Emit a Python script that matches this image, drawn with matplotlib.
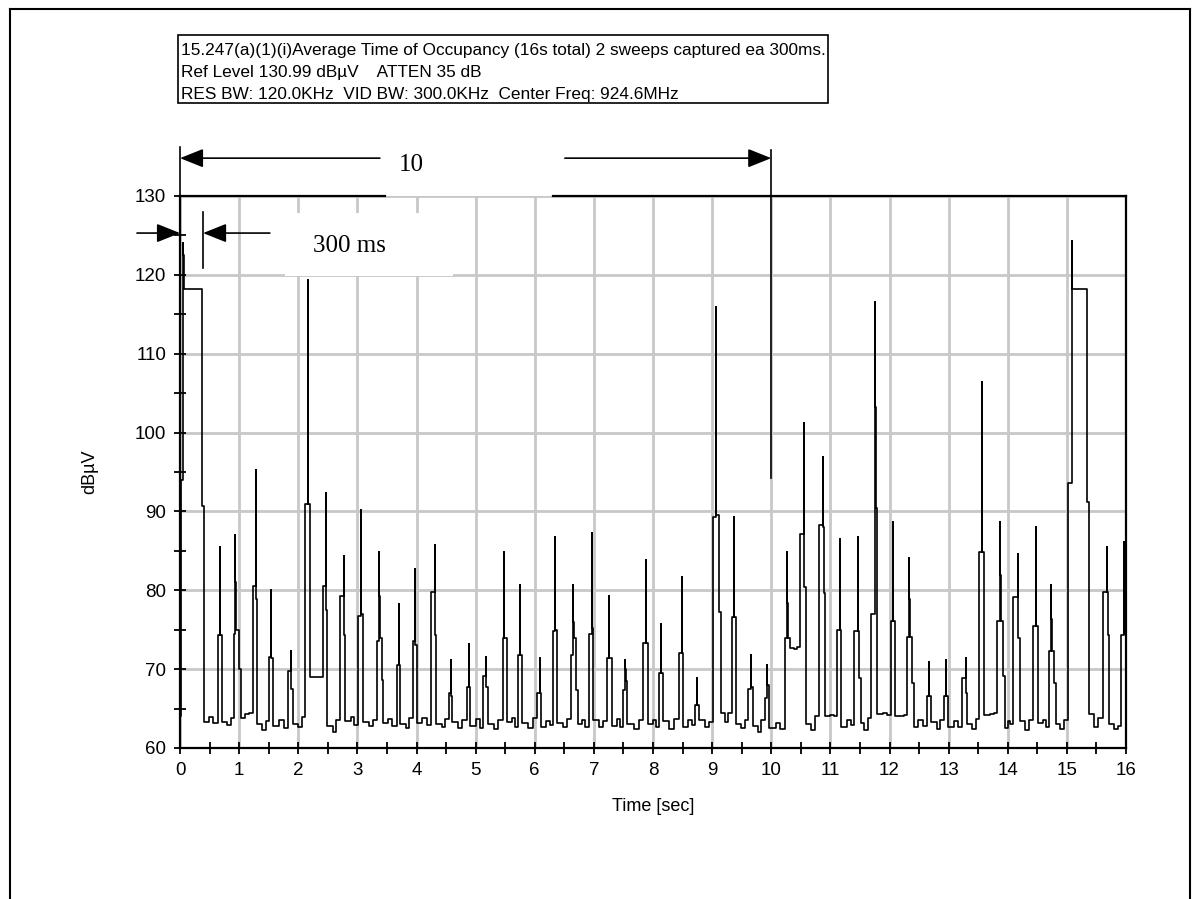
import matplotlib
matplotlib.use("Agg")
import matplotlib.pyplot as plt
import numpy as np
from matplotlib.patches import Rectangle
from matplotlib.lines import Line2D

# header text of the analyser plot
header_lines = [
    "15.247(a)(1)(i)Average Time of Occupancy (16s total) 2 sweeps captured ea 300ms.",
    "Ref Level 130.99 dB\u00b5V    ATTEN 35 dB",
    "RES BW: 120.0KHz  VID BW: 300.0KHz  Center Freq: 924.6MHz",
]

# one entry per burst seen on the trace (time in s, level in dBuV)
rise_t = [0.02, 0.646, 0.910, 1.23, 1.51, 1.826, 2.118, 2.427, 2.708, 3.017,
          3.339, 3.664, 3.944, 4.241, 4.543, 4.846, 5.13, 5.457, 5.709, 6.045,
          6.31, 6.62, 6.92, 7.226, 7.497, 7.836, 8.10, 8.446, 8.712, 9.011,
          9.333, 9.606, 9.887, 10.225, 10.49, 10.806, 11.115, 11.408, 11.69, 12.028,
          12.30, 12.637, 12.916, 13.225, 13.522, 13.826, 14.096, 14.42, 14.70, 15.022,
          15.612, 15.92]
peak_t = [0.056, 0.674, 0.938, 1.28, 1.545, 1.876, 2.157, 2.466, 2.77, 3.062,
          3.367, 3.697, 3.972, 4.308, 4.577, 4.88, 5.18, 5.485, 5.748, 6.084,
          6.35, 6.655, 6.96, 7.26, 7.53, 7.876, 8.136, 8.486, 8.751, 9.062,
          9.367, 9.662, 9.927, 10.27, 10.546, 10.879, 11.155, 11.46, 11.758, 12.062,
          12.338, 12.676, 12.96, 13.292, 13.567, 13.871, 14.169, 14.47, 14.736, 15.079,
          15.68, 15.966]
fall_t = [0.376, 0.713, 0.994, 1.30, 1.573, 1.904, 2.202, 2.494, 2.79, 3.10,
          3.41, 3.725, 4.0, 4.336, 4.6, 4.913, 5.204, 5.53, 5.776, 6.112,
          6.38, 6.70, 6.99, 7.30, 7.565, 7.91, 8.164, 8.514, 8.785, 9.119,
          9.407, 9.69, 9.97, 10.31, 10.58, 10.907, 11.183, 11.49, 11.786, 12.10,
          12.377, 12.71, 12.983, 13.309, 13.596, 13.916, 14.208, 14.51, 14.79, 15.348,
          15.708, 16.0]
rise_db = [94, 74.3, 74.5, 80.5, 71.6, 69.8, 90.9, 80.5, 79.3, 76.8,
           73.6, 70.5, 73.6, 79.8, 67, 67.7, 69.1, 73.9, 71.8, 67,
           74.8, 71.8, 74.5, 71.4, 67.4, 73.3, 69.5, 72, 65.5, 89.3,
           76.6, 67.5, 66.4, 73.9, 87.2, 88.3, 75, 74.8, 77, 76.1,
           74.1, 66.6, 66.6, 68.9, 84.8, 76.1, 79.1, 75.5, 72.3, 93.6,
           79.8, 74.3]
peak_db = [124, 85.5, 87, 95.2, 80, 72.3, 119.3, 92.3, 84.3, 90.2,
           84.8, 78.2, 82.7, 85.7, 71.1, 73.2, 71.6, 84.9, 80.7, 71.4,
           86.8, 80.7, 87.3, 79.3, 71.1, 83.9, 75.7, 81.7, 68.9, 115.9,
           89.3, 71.8, 70.5, 84.8, 101.2, 96.9, 86.5, 86.7, 116.6, 88.6,
           84.1, 70.9, 71.1, 71.4, 106.4, 88.6, 84.6, 88, 80.7, 124.3,
           85.5, 86.1]
hold_db = [122.5, 74.3, 81, 78.9, 71.4, 67.5, 93.9, 77.5, 74.3, 77,
           79.3, 70.5, 73, 79.8, 66.6, 67.7, 67.7, 73.9, 71.8, 67,
           75, 76, 75.2, 71.4, 70, 73.3, 69.5, 72, 65.5, 102.9,
           76.6, 67.7, 68.5, 78.4, 82, 88, 75, 80.7, 103.3, 76.1,
           78.9, 66.6, 66.6, 67, 84.8, 82, 79, 75.5, 76.4, 121.1,
           79.8, 86]
shoulder_db = [118.2, 74.3, 75, 78.9, 71.4, 67.5, 90.9, 77.5, 74.3, 77,
               73.9, 70.5, 73, 74.3, 66.6, 67.7, 67.7, 73.9, 71.8, 67,
               75, 74, 75.2, 71.4, 68.5, 73.3, 69.5, 72, 65.5, 89.5,
               76.6, 67.7, 68, 73.9, 80.4, 79.7, 75, 74.8, 90.4, 76.1,
               74.1, 66.6, 66.6, 67, 84.8, 76.1, 73.9, 75.5, 72.3, 118.2,
               74.3, 74.5]
tail_db = [90.7, 63.3, 70, 63, 62.8, 63, 69, 62.8, 63.4, 63.3,
           68.6, 63, 63.2, 63, 63.3, 62.8, 63, 63.3, 63.2, 62.6,
           63.2, 67.3, 63.5, 62.8, 63, 63, 63.4, 62.7, 63.5, 77.3,
           63, 62.8, 62.5, 72.7, 63, 64.1, 62.7, 68.9, 64.3, 64,
           68.2, 63.3, 62.7, 63, 64.2, 69.1, 63.4, 63.2, 68.2, 91.2,
           63, 74.5]
# noise floor after each burst: first part, middle part, last part
floor_db = [63.3, 63.3, 63.8, 63, 62.8, 63, 69, 62.8, 63.4, 63.3,
            63.2, 63, 63.2, 63, 63.3, 62.8, 63, 63.3, 63.2, 62.6,
            63.2, 63, 63.5, 62.8, 63, 63, 63.4, 62.7, 63.5, 64.5,
            63, 62.8, 62.5, 72.7, 63, 64.1, 62.7, 63.2, 64.3, 64,
            62.6, 63.3, 62.7, 63, 64.2, 62.5, 63.4, 63.2, 63, 64.3,
            63, 74.5]
floor_mid_db = [63.9, 62.9, 64.3, 62.3, 63.6, 62.6, 69, 62.0, 63.9, 62.8,
                63.7, 62.5, 63.8, 62.6, 62.5, 63.7, 62.4, 63.8, 62.5, 63.4,
                62.6, 63.6, 62.7, 63.7, 62.4, 63.5, 62.4, 63.6, 62.7, 63.3,
                62.5, 62.0, 63.2, 72.5, 62.3, 64.2, 63.6, 62.3, 64.4, 64.1,
                63.5, 62.4, 63.4, 62.4, 64.3, 63.4, 62.3, 63.6, 62.4, 62.6,
                62.4, 74.5]
floor_end_db = [63.2, 63.8, 64.5, 63.4, 62.5, 63.9, 69, 63.5, 62.9, 63.6,
                62.8, 63.8, 62.9, 63.7, 63.5, 62.5, 63.6, 62.7, 63.8, 62.9,
                63.7, 62.6, 63.4, 62.6, 63.6, 62.7, 63.7, 62.9, 63.3, 64.4,
                63.5, 63.6, 62.4, 72.8, 64.0, 64.0, 62.9, 63.8, 64.2, 64.2,
                62.8, 63.5, 62.6, 63.7, 64.4, 63.0, 63.6, 62.6, 63.5, 63.8,
                62.8, 74.5]
start_db = 64

# build the stepped trace
tx = [0.0]
ty = [start_db]
for i in range(len(peak_t)):
    tx += [rise_t[i], rise_t[i], peak_t[i], peak_t[i], peak_t[i],
           peak_t[i] + 0.008, peak_t[i] + 0.008, fall_t[i], fall_t[i]]
    ty += [ty[-1], rise_db[i], rise_db[i], peak_db[i], hold_db[i],
           hold_db[i], shoulder_db[i], shoulder_db[i], tail_db[i]]
    if fall_t[i] < 16:
        t0 = fall_t[i] + 0.03
        gap = rise_t[i + 1] - t0
        tx += [t0, t0, t0 + gap / 3, t0 + gap / 3, t0 + 2 * gap / 3, t0 + 2 * gap / 3]
        ty += [tail_db[i], floor_db[i], floor_db[i], floor_mid_db[i], floor_mid_db[i], floor_end_db[i]]

plt.rcParams['font.family'] = ['Liberation Sans', 'DejaVu Sans']

fig = plt.figure(figsize=(11.99, 8.99), dpi=100)
W, H = 1199.0, 899.0
ax = fig.add_axes([180 / W, 1 - 748 / H, (1126 - 180) / W, (748 - 196) / H])

ax.set_xlim(0, 16)
ax.set_ylim(60, 130)
ax.set_xticks(range(0, 17))
ax.set_yticks(range(60, 131, 10))
ax.set_xticks(np.arange(0.5, 16, 1.0), minor=True)
ax.set_yticks(range(65, 130, 10), minor=True)
ax.tick_params(which='both', direction='inout', length=8, width=1.3, labelsize=13.5, pad=6)
ax.grid(True, which='major', color='#c8c8c8', lw=2, zorder=0)
ax.set_axisbelow(True)

for side in ['left', 'bottom', 'right']:
    ax.spines[side].set_linewidth(1.6)
ax.spines['top'].set_visible(False)

# white patch behind "300 ms"
ax.add_patch(Rectangle((1.78, 119.9), 2.84, 7.9, facecolor='white', edgecolor='none', zorder=1))

ax.plot(tx, ty, color='black', lw=1.2, zorder=3)

# top frame line, broken where the "10" label sits
ax.plot([0, 3.47], [130, 130], color='black', lw=1.6, clip_on=False, zorder=4)
ax.plot([6.31, 16], [130, 130], color='black', lw=1.6, clip_on=False, zorder=4)

ax.set_xlabel('Time [sec]', fontsize=13, labelpad=14)
ax.set_ylabel('dB\u00b5V', fontsize=13, labelpad=26)

# "10" s marker
arrow = dict(arrowstyle='-|>,head_length=1.0,head_width=0.4', mutation_scale=14.4,
             lw=1.2, color='black', shrinkA=0, shrinkB=0)
ax.plot([0, 0], [136.2, 128.5], color='black', lw=1.2, clip_on=False)
ax.plot([10, 10], [135.8, 94.2], color='black', lw=1.2, clip_on=False, zorder=4)
ax.annotate('', xy=(0, 134.8), xytext=(3.38, 134.8), arrowprops=arrow, annotation_clip=False)
ax.annotate('', xy=(10, 134.8), xytext=(6.51, 134.8), arrowprops=arrow, annotation_clip=False)
ax.text(3.92, 133.9, '10', fontsize=18, family='Liberation Serif', ha='center', va='center')

# "300 ms" marker
ax.plot([0.39, 0.39], [128.0, 120.9], color='black', lw=1.2, zorder=4)
ax.annotate('', xy=(0, 125.3), xytext=(-0.727, 125.3), arrowprops=arrow, annotation_clip=False)
ax.annotate('', xy=(0.39, 125.3), xytext=(1.52, 125.3), arrowprops=arrow, annotation_clip=False)
ax.text(2.86, 123.7, '300 ms', fontsize=18, family='Liberation Serif', ha='center', va='center', zorder=5)

# header box
fig.add_artist(Rectangle((178 / W, 1 - 103 / H), (828 - 178) / W, (103 - 35) / H,
                         transform=fig.transFigure, fill=False, lw=1.2, edgecolor='black'))
for k, line in enumerate(header_lines):
    fig.text(181 / W, 1 - (50 + 22 * k) / H, line, fontsize=12.4, va='center', ha='left')

# outer frame of the page
fig.add_artist(Line2D([10 / W, 10 / W], [0, 1 - 9 / H], transform=fig.transFigure, color='black', lw=1.5))
fig.add_artist(Line2D([10 / W, 1190 / W], [1 - 9 / H, 1 - 9 / H], transform=fig.transFigure, color='black', lw=1.5))
fig.add_artist(Line2D([1190 / W, 1190 / W], [0, 1 - 9 / H], transform=fig.transFigure, color='black', lw=1.5))

fig.savefig('out.png', dpi=100)
